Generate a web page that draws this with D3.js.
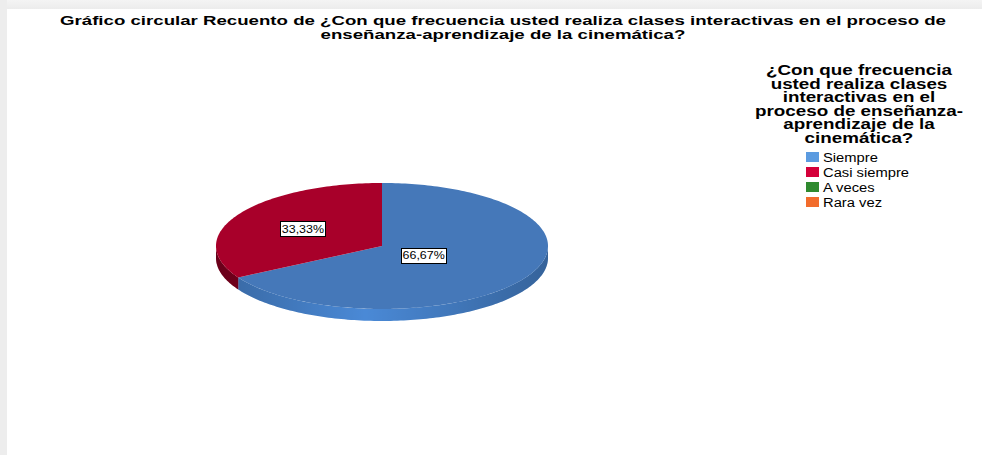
<!DOCTYPE html>
<html><head><meta charset="utf-8">
<script src="https://cdn.jsdelivr.net/npm/d3@7"></script>
<style>
html,body{margin:0;padding:0;background:#efefef;}
svg{display:block;}
text{font-family:"Liberation Sans",Arial,sans-serif;}
</style></head>
<body>
<svg id="chart" width="982" height="455"></svg>
<script>
const titleLines = ["Gráfico circular Recuento de ¿Con que frecuencia usted realiza clases interactivas en el proceso de","enseñanza-aprendizaje de la cinemática?"];
const legendTitleLines = ["¿Con que frecuencia","usted realiza clases","interactivas en el","proceso de enseñanza-","aprendizaje de la","cinemática?"];
const categories = ["Siempre","Casi siempre","A veces","Rara vez"];
const values = [66.67, 33.33, 0, 0];
const labels = ["66,67%","33,33%","",""];
const legendColors = ["#5b9be0","#d4003a","#2f8a2f","#f26c2c"];
const topColors = ["#4578b9","#a8002a","#2f8a2f","#f26c2c"];
const sideColors = ["#4a89d6","#8c0022","#226b22","#c95520"];

const svg = d3.select("#chart");
function stretch(sel, f){
  sel.each(function(){
    const w = this.getComputedTextLength();
    d3.select(this).attr("textLength", w*f).attr("lengthAdjust","spacingAndGlyphs");
  });
}
const bg = svg.append("defs");
const gTop = bg.append("linearGradient").attr("id","topstrip").attr("x1",0).attr("x2",0).attr("y1",0).attr("y2",1);
gTop.append("stop").attr("offset","0%").attr("stop-color","#f4f4f4");
gTop.append("stop").attr("offset","100%").attr("stop-color","#ececec");
svg.append("rect").attr("x",0).attr("y",0).attr("width",982).attr("height",9).attr("fill","url(#topstrip)");
svg.append("rect").attr("x",0).attr("y",0).attr("width",7).attr("height",455).attr("fill","#ededed");
svg.append("rect").attr("x",7).attr("y",9).attr("width",975).attr("height",446).attr("fill","#ffffff");

// title
const title = svg.append("g");
titleLines.forEach((t,i)=>{
  title.append("text").attr("x",503).attr("y",25+i*13.5).attr("text-anchor","middle")
    .attr("font-size",13.5).attr("font-weight","bold").attr("fill","#000").text(t);
});
const w0 = title.select("text").node().getComputedTextLength();
stretch(title.selectAll("text"), 886/w0);

// pie geometry
const cx = 382, cy = 246, rx = 166, ry = 63, depth = 12;
const pie = d3.pie().sort(null).value(d=>d.v);
const arcsData = pie(categories.map((c,i)=>({c, v:values[i], i}))).filter(a=>a.data.v>0);
const px = (a,r=1)=>cx + rx*r*Math.sin(a);
const py = (a,r=1,dy=0)=>cy - ry*r*Math.cos(a) + dy;

function topPath(a0,a1){
  const n = Math.max(2, Math.ceil((a1-a0)/0.02));
  let d = `M${cx},${cy}`;
  for(let k=0;k<=n;k++){const a=a0+(a1-a0)*k/n; d+=`L${px(a)},${py(a)}`;}
  return d+"Z";
}
function sidePath(a0,a1){
  const n = Math.max(2, Math.ceil((a1-a0)/0.02));
  let d="";
  for(let k=0;k<=n;k++){const a=a0+(a1-a0)*k/n; d+=(k?"L":"M")+`${px(a)},${py(a)}`;}
  for(let k=n;k>=0;k--){const a=a0+(a1-a0)*k/n; d+=`L${px(a)},${py(a,1,depth)}`;}
  return d+"Z";
}
const sg = bg.append("linearGradient").attr("id","sideShade").attr("gradientUnits","userSpaceOnUse")
  .attr("x1",cx-rx).attr("x2",cx+rx).attr("y1",0).attr("y2",0);
[["0%",0.25],["45%",0],["100%",0.28]].forEach(([o,op])=>{
  sg.append("stop").attr("offset",o).attr("stop-color","#000").attr("stop-opacity",op);
});
const pieG = svg.append("g");
arcsData.forEach(a=>{
  const s = Math.max(a.startAngle, Math.PI/2), e = Math.min(a.endAngle, 3*Math.PI/2);
  if(e>s){
    pieG.append("path").attr("d",sidePath(s,e)).attr("fill",sideColors[a.data.i]);
    pieG.append("path").attr("d",sidePath(s,e)).attr("fill","url(#sideShade)");
  }
});
arcsData.forEach(a=>{
  pieG.append("path").attr("d",topPath(a.startAngle,a.endAngle)).attr("fill",topColors[a.data.i]);
});

// labels
const labG = svg.append("g");
arcsData.forEach(a=>{
  const mid=(a.startAngle+a.endAngle)/2;
  const frac = (a.endAngle-a.startAngle) > Math.PI ? 0.29 : 0.55;
  const lx = px(mid,frac), ly = py(mid,frac);
  const t = labG.append("text").attr("x",lx).attr("y",ly+4).attr("text-anchor","middle")
    .attr("font-size",11.5).attr("fill","#000").text(labels[a.data.i]);
  stretch(t, 1.08);
  const bb = t.node().getBBox();
  labG.insert("rect","text").attr("x",Math.round(bb.x-2)+0.5).attr("y",Math.round(ly-7.5)+0.5)
    .attr("width",Math.round(bb.width+3)).attr("height",15).attr("fill","#fff").attr("stroke","#000").attr("stroke-width",1);
});

// legend
const leg = svg.append("g");
legendTitleLines.forEach((t,i)=>{
  leg.append("text").attr("x",859).attr("y",75+i*13.5).attr("text-anchor","middle")
    .attr("font-size",14.5).attr("font-weight","bold").attr("fill","#000").text(t);
});
const wl = leg.selectAll("text").nodes()[3].getComputedTextLength();
stretch(leg.selectAll("text"), 208/wl);
categories.forEach((c,i)=>{
  const y = 152 + i*15;
  leg.append("rect").attr("x",806).attr("y",y).attr("width",13).attr("height",10).attr("fill",legendColors[i]);
  const t = leg.append("text").attr("x",823).attr("y",y+10).attr("font-size",12.5).attr("fill","#000").text(c);
  stretch(t, 1.18);
});
</script>
</body></html>
